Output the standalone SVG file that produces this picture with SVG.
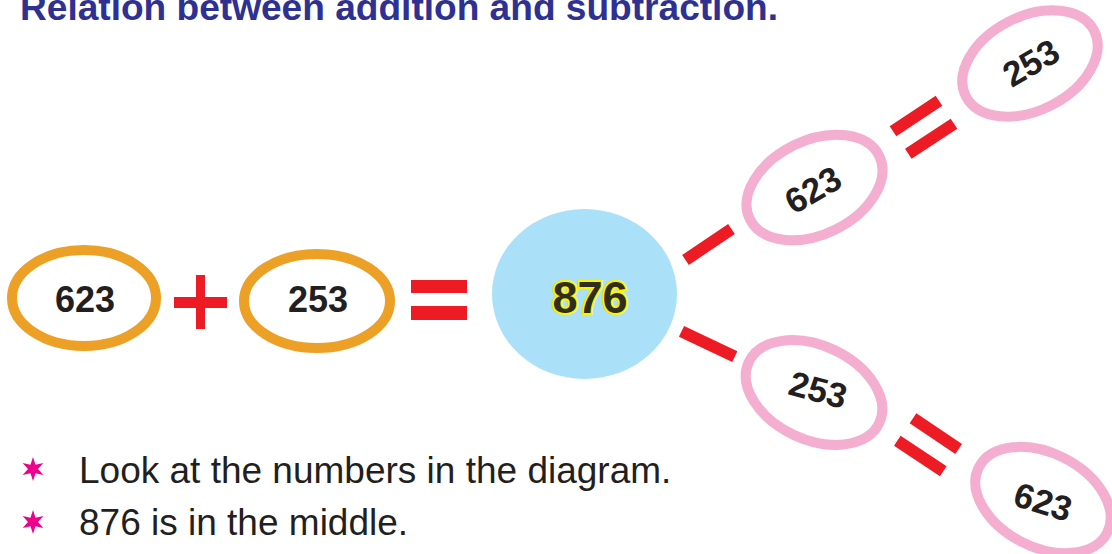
<svg xmlns="http://www.w3.org/2000/svg" width="1112" height="554" viewBox="0 0 1112 554">
<style>
.title{font-family:"Liberation Sans",Arial,sans-serif;font-weight:bold;font-size:36px;fill:#2e3192}
.num{font-family:"Liberation Sans",Arial,sans-serif;font-weight:bold;font-size:36px;fill:#231f20;text-anchor:middle}
.pnum{font-family:"Liberation Sans",Arial,sans-serif;font-weight:bold;font-size:35px;fill:#231f20;text-anchor:middle}
.big{font-family:"Liberation Sans",Arial,sans-serif;font-weight:bold;font-size:45px;fill:#2f2e1e;stroke:#fff200;stroke-width:4;paint-order:stroke;text-anchor:middle}
.body{font-family:"Liberation Sans",Arial,sans-serif;font-size:37px;fill:#231f20}
.orange{fill:none;stroke:#eca026;stroke-width:10}
.pink{fill:none;stroke:#f4aecf;stroke-width:10}
.op{fill:#ed1c24}
.bar{stroke:#ed1c24;stroke-width:12;stroke-linecap:butt}
.star{fill:#ec008c}
</style>
<defs>
<polygon id="star" points="0,-12 2.5,-4.33 10.39,-6 5,0 10.39,6 2.5,4.33 0,12 -2.5,4.33 -10.39,6 -5,0 -10.39,-6 -2.5,-4.33"/>
</defs>
<rect width="1112" height="554" fill="#ffffff"/>
<text class="title" x="20" y="20" textLength="758" lengthAdjust="spacingAndGlyphs">Relation between addition and subtraction.</text>

<g id="n623">
<ellipse class="orange" cx="84" cy="298" rx="72" ry="48"/>
<text class="num" x="85" y="312">623</text>
</g>
<g id="plus">
<rect class="op" x="174" y="297" width="53" height="11"/>
<rect class="op" x="196" y="275" width="9" height="54"/>
</g>
<g id="n253">
<ellipse class="orange" cx="317" cy="301" rx="73" ry="47"/>
<text class="num" x="318" y="312">253</text>
</g>
<g id="equals">
<rect class="op" x="411" y="280" width="56" height="13"/>
<rect class="op" x="411" y="306" width="56" height="14"/>
</g>
<g id="n876">
<ellipse cx="584.5" cy="294" rx="92.5" ry="85" fill="#abe1f8"/>
<text class="big" x="590" y="313">876</text>
</g>
<g id="up623">
<ellipse class="pink" cx="814.5" cy="187.5" rx="72" ry="47" transform="rotate(-26 814.5 187.5)"/>
<text class="pnum" x="813" y="202" transform="rotate(-30 813 190)">623</text>
</g>
<g id="up253">
<ellipse class="pink" cx="1030" cy="63.5" rx="72" ry="47" transform="rotate(-27 1030 63.5)"/>
<text class="pnum" x="1031" y="75" transform="rotate(-30 1031 63)">253</text>
</g>
<g id="low253">
<ellipse class="pink" cx="814" cy="392.5" rx="72" ry="47" transform="rotate(25 814 392.5)"/>
<text class="pnum" x="818" y="402" transform="rotate(15 818 390)">253</text>
</g>
<g id="low623">
<ellipse class="pink" cx="1043" cy="500" rx="72" ry="47" transform="rotate(27 1043 500)"/>
<text class="pnum" x="1043" y="514" transform="rotate(17 1043 502)">623</text>
</g>

<g id="connectors">
<line class="bar" x1="685.5" y1="260" x2="731.5" y2="229"/>
<line class="bar" x1="681.5" y1="331.3" x2="734.8" y2="356.7" stroke-width="11"/>
<line class="bar" x1="893" y1="131.3" x2="939" y2="100.8"/>
<line class="bar" x1="908.3" y1="153.8" x2="954" y2="123.7"/>
<line class="bar" x1="913" y1="418.3" x2="958.7" y2="449"/>
<line class="bar" x1="897.3" y1="440.8" x2="943.3" y2="471.3"/>
</g>

<g id="notes">
<use href="#star" class="star" x="33" y="469"/>
<text class="body" x="79" y="483">Look at the numbers in the diagram.</text>
<use href="#star" class="star" x="33" y="522"/>
<text class="body" x="79" y="535">876 is in the middle.</text>
</g>
</svg>
